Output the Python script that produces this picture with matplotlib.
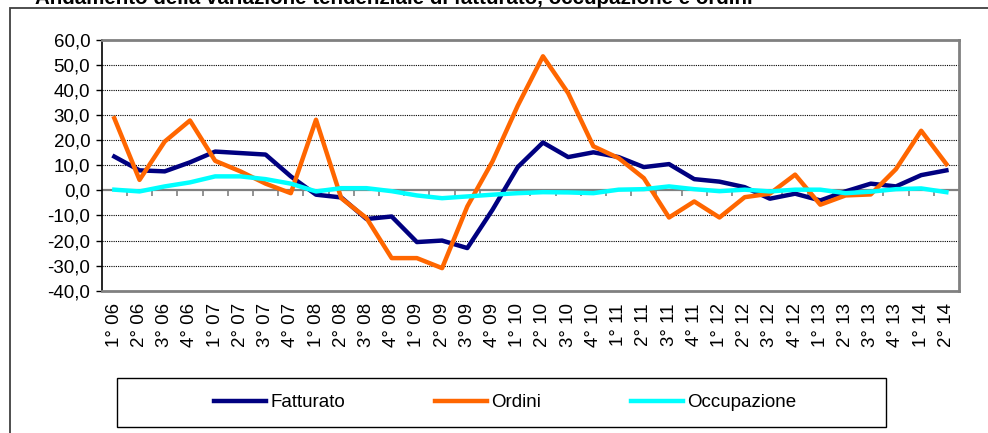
import matplotlib.pyplot as plt
from matplotlib.patches import Rectangle

# trimestri dal 1° 06 al 2° 14
quarters = [f"{q}° {y:02d}" for y in range(6, 15) for q in range(1, 5)][:34]

fatturato = [13.5, 8.0, 7.6, 11.2, 15.5, 14.9, 14.3, 5.6, -1.7, -2.8,
             -11.4, -10.4, -20.6, -20.0, -23.0, -7.7, 9.3, 19.1, 13.3, 15.2,
             13.3, 9.3, 10.5, 4.5, 3.5, 1.3, -3.3, -1.3, -4.0, -0.4,
             2.7, 1.6, 6.1, 8.0]
ordini = [28.8, 4.2, 19.5, 27.9, 11.8, 7.6, 2.7, -1.1, 28.2, -3.1,
          -11.0, -27.0, -27.0, -31.0, -6.4, 11.6, 33.8, 53.5, 38.8, 17.6,
          12.9, 4.9, -10.8, -4.4, -10.8, -2.7, -1.3, 6.3, -5.7, -2.0,
          -1.6, 8.5, 23.8, 10.5]
occupazione = [0.3, -0.4, 1.6, 3.2, 5.6, 5.6, 4.5, 2.7, -0.4, 0.9,
               0.9, -0.3, -2.0, -3.1, -2.4, -1.7, -1.1, -0.7, -0.8, -1.1,
               0.3, 0.5, 1.6, 0.5, -0.3, 0.3, -0.4, 0.3, 0.3, -1.1,
               -0.5, 0.5, 0.8, -0.7]

series = [("Fatturato", fatturato, "#000080"),
          ("Ordini", ordini, "#FF6600"),
          ("Occupazione", occupazione, "#00FFFF")]
y_ticks = list(range(-40, 70, 10))

plt.rcParams['font.family'] = ['Liberation Sans', 'DejaVu Sans']

fig = plt.figure(figsize=(9.88, 4.33), dpi=100)
ax = fig.add_axes([101.7 / 988, 1 - 290.7 / 433, (959 - 101.7) / 988, 250.7 / 433])

x = list(range(len(quarters)))
for name, vals, col in series:
    ax.plot(x, vals, color=col, lw=3.2, label=name, zorder=3)

ax.set_xlim(-0.5, len(quarters) - 0.5)
ax.set_ylim(-40, 60)

# griglia puntinata
for v in y_ticks:
    if v in (-40, 0, 60):
        continue
    ax.axhline(v, color='black', lw=0.8, linestyle=(0, (1, 1)), zorder=1)

# asse delle categorie sullo zero con tacche
ax.axhline(0, color='#808080', lw=1.6, zorder=2)
ax.vlines([b - 0.5 for b in range(1, len(quarters))], -2.4, 0,
          color='#808080', lw=1.2, zorder=2)

ax.set_yticks(y_ticks)
ax.set_yticklabels([f"{v:.1f}".replace('.', ',') for v in y_ticks], fontsize=13.5)
ax.set_xticks(x)
ax.set_xticklabels(quarters, rotation=90, fontsize=13.5)
ax.tick_params(axis='x', length=0, pad=9)
ax.tick_params(axis='y', direction='out', length=4.3, width=1, color='black', pad=4)

for side in ('top', 'right', 'bottom'):
    ax.spines[side].set_color('#808080')
    ax.spines[side].set_linewidth(2)
ax.spines['left'].set_color('black')
ax.spines['left'].set_linewidth(1.2)

# cornice esterna del grafico
fig.patches.append(Rectangle((10 / 988, -0.1), 1.1, 1.1 - 8 / 433,
                             transform=fig.transFigure, fill=False,
                             edgecolor='#404040', lw=1.3))

# titolo (tagliato in alto come nell'originale)
fig.text(35 / 988, 1 - 3.5 / 433,
         "Andamento della variazione tendenziale di fatturato, occupazione e ordini",
         fontsize=14.8, fontweight='bold', va='baseline', ha='left')

# legenda con cornice larga
fig.patches.append(Rectangle((117 / 988, 1 - 427 / 433), (886 - 117) / 988, 49 / 433,
                             transform=fig.transFigure, fill=False,
                             edgecolor='black', lw=1.0))
handles, labels = ax.get_legend_handles_labels()
fig.legend(handles, labels, loc='center', ncol=3, frameon=False, fontsize=13.5,
           bbox_to_anchor=(505 / 988, 1 - 402.5 / 433), handlelength=2.8,
           handletextpad=0.2, columnspacing=4.8)

fig.savefig("out.png", dpi=100)
